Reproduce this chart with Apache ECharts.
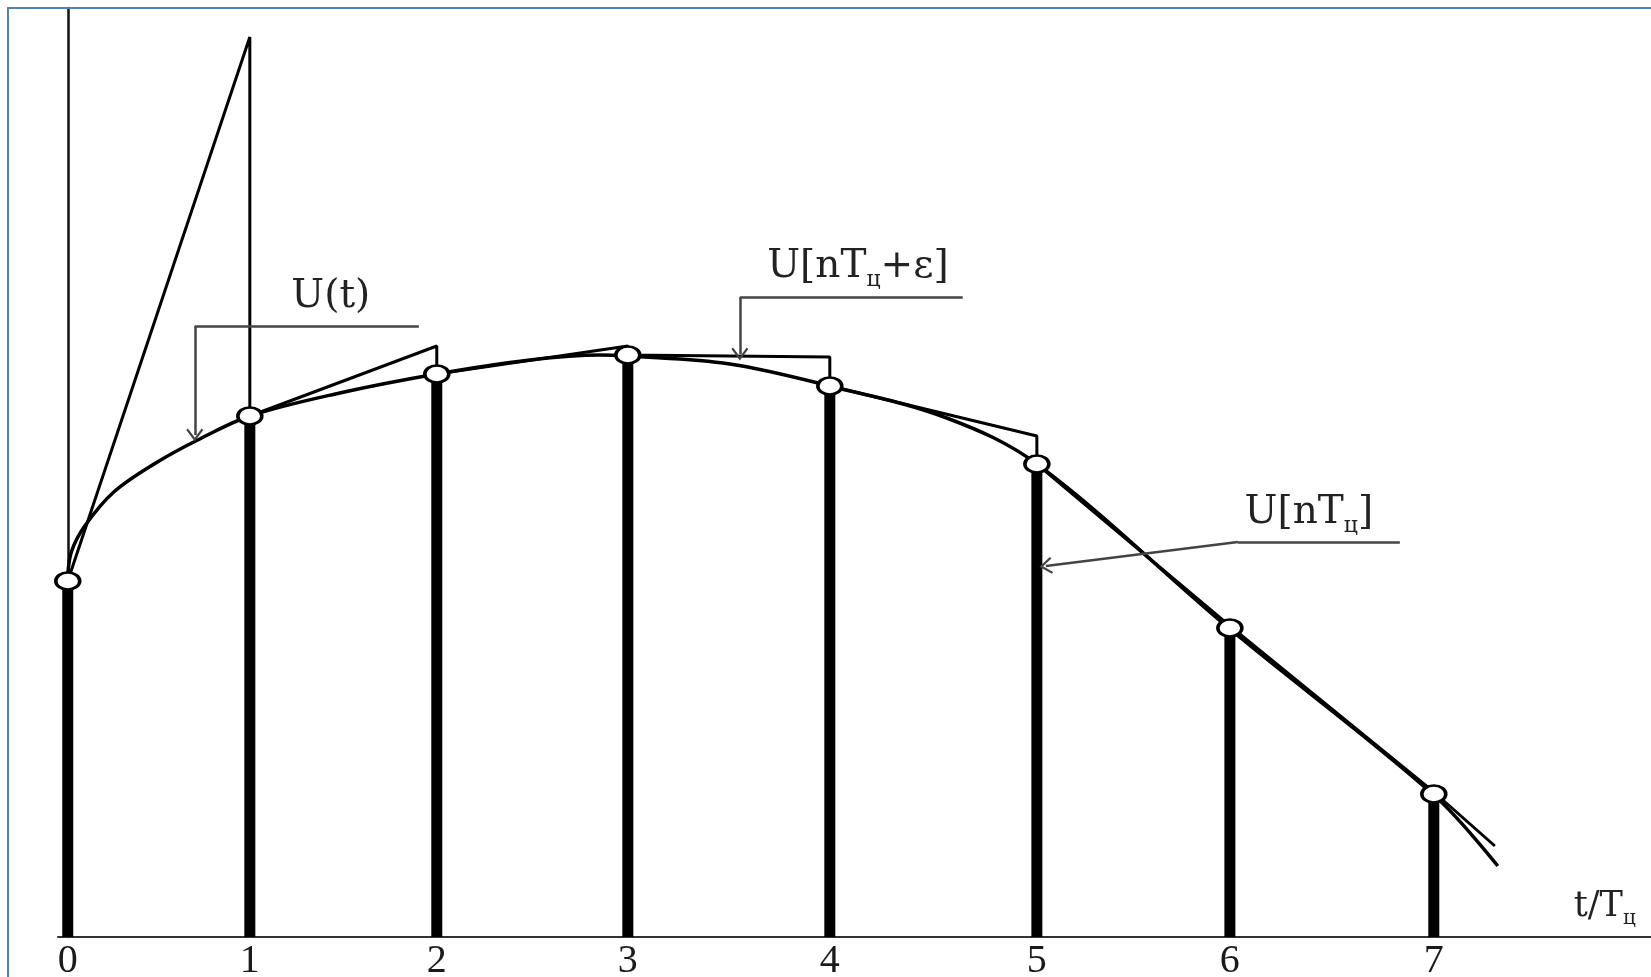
<!DOCTYPE html>
<html><head><meta charset="utf-8">
<script src="https://cdn.jsdelivr.net/npm/echarts@6/dist/echarts.min.js"></script>
<style>html,body{margin:0;padding:0;background:#fff}#c{width:1651px;height:977px}</style>
</head><body><div id="c"></div>
<script>
// ---- data ----
const tickLabels = ['0', '1', '2', '3', '4', '5', '6', '7'];
// sample instants nT (positions along t/Tц as drawn)
const samplePos = [0, 0.933, 1.891, 2.870, 3.905, 4.966, 5.955, 7.000];
// sampled values U[nT]
const sampleU = [3.56, 5.21, 5.63, 5.82, 5.51, 4.73, 3.09, 1.43];
// values U[nT+ε] reached just before each sample (sawtooth peaks)
const peakU = [null, 9.00, 5.91, 5.91, 5.80, 5.01, 3.11, 1.45];
const holdEndT = 7.313, holdEndU = 0.91;
// continuous signal U(t)
const curveT = [0, 0.020, 0.087, 0.236, 0.451, 0.666, 0.933, 1.394, 1.891, 2.368, 2.726, 2.870, 3.392, 3.905, 4.504, 4.966, 5.955, 7.000, 7.328];
const curveU = [3.62, 3.86, 4.11, 4.45, 4.74, 4.97, 5.21, 5.44, 5.63, 5.77, 5.82, 5.81, 5.73, 5.51, 5.19, 4.73, 3.08, 1.42, 0.71];
// annotation texts
const labelUt = 'U(t)';
const labelEps = '{a|U[nT}{s|ц}{a|+ε]}';
const labelN = '{a|U[nT}{s|ц}{a|]}';
const axisTitle = '{a|t/T}{s|ц}';

// annotation anchors in data units
const leaderUt = [[1.799, 6.11], [0.651, 6.11], [0.651, 5.02]];
const leaderEps = [[4.586, 6.40], [3.444, 6.40], [3.444, 5.83]];
const leaderN = [[6.826, 3.95], [5.996, 3.95], [5.012, 3.71]];
const textUt = [1.348, 6.40];
const textEps = [4.049, 6.70];
const textN = [6.360, 4.24];
const textAxis = [7.876, 0.30];

// ---- build ----
const serif = 'Liberation Serif';
const annFont = 'DejaVu Serif';
const barData = samplePos.map((x, i) => [x, sampleU[i]]);
const curveData = curveT.map((t, i) => [t, curveU[i]]);
const sawData = [[samplePos[0], sampleU[0]]];
for (let i = 1; i < samplePos.length; i++) {
  sawData.push([samplePos[i], peakU[i]]);
  sawData.push([samplePos[i], sampleU[i]]);
}
sawData.push([holdEndT, holdEndU]);

const arrowSym = 'path://M50,0 L100,62 L90,70 L50,20 L10,70 L0,62 Z';
function leader(pts) {
  const segs = [];
  for (let i = 0; i < pts.length - 1; i++) {
    const last = i === pts.length - 2;
    segs.push([{ coord: pts[i], symbol: 'none' },
               { coord: pts[i + 1], symbol: last ? arrowSym : 'none', symbolSize: [17, 13] }]);
  }
  return segs;
}
const rich = {
  a: { fontSize: 39, fontFamily: annFont, color: '#222', lineHeight: 39, verticalAlign: 'top' },
  s: { fontSize: 22, fontFamily: annFont, color: '#222', lineHeight: 22, padding: [22, 0, 0, 0], verticalAlign: 'top' }
};
const richAxis = {
  a: { fontSize: 35, fontFamily: annFont, color: '#222', lineHeight: 35, verticalAlign: 'top' },
  s: { fontSize: 20, fontFamily: annFont, color: '#222', lineHeight: 20, padding: [19, 0, 0, 0], verticalAlign: 'top' }
};

const chart = echarts.init(document.getElementById('c'), null, { renderer: 'canvas' });
chart.setOption({
  animation: false,
  backgroundColor: '#ffffff',
  graphic: [{
    type: 'rect', silent: true, z: 100,
    shape: { x: 8, y: 8, width: 1700, height: 1000 },
    style: { fill: null, stroke: '#4F81BD', lineWidth: 2 }
  }],
  grid: { left: 58, right: 0, top: 8, bottom: 40, containLabel: false, outerBoundsMode: 'none' },
  xAxis: {
    type: 'value', min: -0.05, max: 8.113,
    splitLine: { show: false },
    axisTick: { show: false },
    axisLine: { show: true, onZero: true, lineStyle: { color: '#333', width: 2 } },
    axisLabel: {
      customValues: samplePos,
      formatter: function (v) {
        const i = samplePos.findIndex(p => Math.abs(p - v) < 1e-6);
        return i >= 0 ? tickLabels[i] : '';
      },
      fontSize: 40, fontFamily: serif, color: '#1a1a1a', margin: 4
    }
  },
  yAxis: {
    type: 'value', min: 0, max: 9.29,
    splitLine: { show: false },
    axisTick: { show: false },
    axisLabel: { show: false },
    axisLine: { show: true, onZero: true, lineStyle: { color: '#111', width: 2.5 } }
  },
  series: [
    {
      type: 'bar', name: 'U[nT]', data: barData, barWidth: 11,
      itemStyle: { color: '#000' }, z: 2, silent: true
    },
    {
      type: 'line', name: 'U(t)', data: curveData, smooth: 0.35, symbol: 'none',
      lineStyle: { color: '#000', width: 3.5 }, z: 3, silent: true,
      markLine: {
        silent: true, animation: false, symbol: ['none', 'none'],
        label: { show: false },
        lineStyle: { color: '#444', width: 2.5, type: 'solid' },
        emphasis: { disabled: true },
        data: [].concat(leader(leaderUt), leader(leaderEps), leader(leaderN))
      },
      markPoint: {
        silent: true, animation: false, symbol: 'circle', symbolSize: 0,
        label: { show: true, position: 'inside', fontSize: 39, fontFamily: annFont, color: '#222', rich: rich },
        data: [
          { coord: textUt, label: { formatter: labelUt } },
          { coord: textEps, label: { formatter: labelEps } },
          { coord: textN, label: { formatter: labelN } },
          { coord: textAxis, label: { formatter: axisTitle, rich: richAxis } }
        ]
      }
    },
    {
      type: 'line', name: 'U[nT+ε]', data: sawData, smooth: false, symbol: 'none',
      lineStyle: { color: '#000', width: 3 }, z: 3, silent: true
    },
    {
      type: 'scatter', name: 'samples', data: barData, symbol: 'circle', symbolSize: [24, 17],
      itemStyle: { color: '#fff', borderColor: '#000', borderWidth: 3, opacity: 1 }, z: 5, silent: true
    }
  ]
});
</script>
</body></html>
